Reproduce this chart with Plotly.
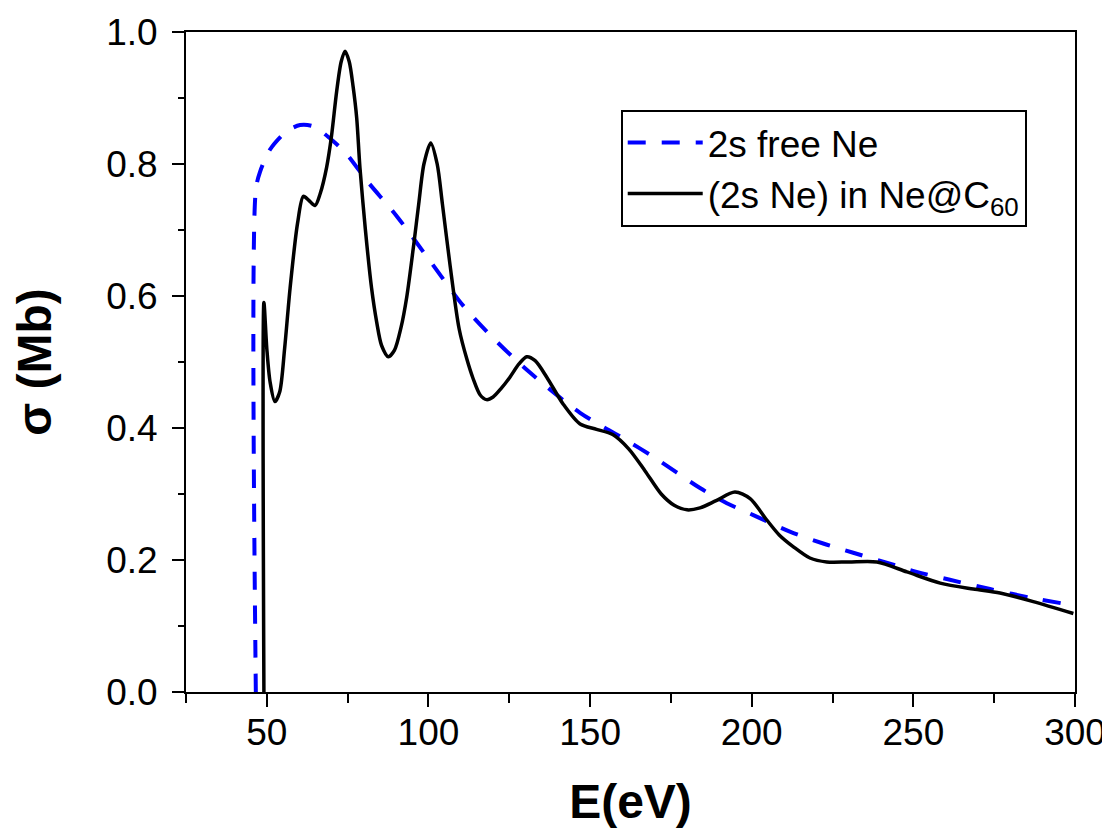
import plotly.graph_objects as go

# 2s free Ne (dashed blue)
free_E = [46.6, 46.6, 47.9, 51.0, 56.0, 60.3, 64.4, 69.5, 74.7, 80.9, 90.2, 100.5, 110.8,
          121.1, 131.4, 146.9, 160.0, 170.0, 184.0, 192.3, 200.5, 211.8, 222.1, 231.4,
          241.7, 251.0, 261.3, 273.7, 287.1, 300.0]
free_s = [0.0, 0.761, 0.788, 0.822, 0.849, 0.859, 0.857, 0.839, 0.815, 0.775, 0.721, 0.653,
          0.585, 0.531, 0.484, 0.423, 0.385, 0.355, 0.309, 0.286, 0.268, 0.243, 0.225,
          0.211, 0.196, 0.182, 0.170, 0.156, 0.142, 0.131]

# (2s Ne) in Ne@C60 (solid black)
c60_E = [49.1, 49.1, 50.0, 51.0, 52.5, 54.0, 55.5, 57.2, 59.5, 61.3, 63.0, 64.9, 66.5, 68.5,
         70.0, 71.6, 73.0, 74.2, 75.5, 76.7, 77.8, 78.8, 80.5, 82.4, 84.0, 85.5, 87.6, 89.5,
         91.5, 93.3, 95.5, 97.0, 98.6, 100.7, 102.7, 104.3, 106.7, 109.5, 111.9, 113.8, 116.0,
         118.0, 120.0, 122.5, 125.2, 128.0, 130.4, 133.0, 136.6, 141.7, 146.9, 152.0, 157.0,
         162.0, 167.0, 172.0, 176.0, 180.0, 184.0, 189.0, 194.8, 199.5, 204.6, 208.5, 212.9,
         218.0, 223.2, 230.0, 238.7, 248.0, 258.3, 268.5, 276.8, 287.1, 299.5]
c60_s = [0.0, 0.59, 0.52, 0.47, 0.44, 0.455, 0.52, 0.612, 0.71, 0.751, 0.745, 0.737, 0.755,
         0.795, 0.842, 0.91, 0.955, 0.971, 0.955, 0.917, 0.87, 0.795, 0.70, 0.612, 0.56,
         0.525, 0.508, 0.518, 0.552, 0.599, 0.68, 0.74, 0.80, 0.832, 0.80, 0.74, 0.646,
         0.55, 0.504, 0.475, 0.45, 0.443, 0.447, 0.46, 0.477, 0.497, 0.508, 0.502, 0.477,
         0.436, 0.406, 0.398, 0.39, 0.368, 0.335, 0.30, 0.283, 0.276, 0.279, 0.29, 0.303,
         0.293, 0.261, 0.238, 0.220, 0.203, 0.197, 0.197, 0.197, 0.182, 0.165, 0.156, 0.150,
         0.137, 0.119]

x_ticks = [50, 100, 150, 200, 250, 300]
y_ticks = [0.0, 0.2, 0.4, 0.6, 0.8, 1.0]

FONT = "Liberation Sans, Arial, sans-serif"

fig = go.Figure()
fig.add_trace(go.Scatter(
    x=free_E, y=free_s, mode="lines", name="2s free Ne", legendgroup="a",
    line=dict(color="#0000FF", width=4, dash="18px,16px", shape="spline", smoothing=0.8),
))
fig.add_trace(go.Scatter(
    x=c60_E, y=c60_s, mode="lines", name="(2s Ne) in Ne@C<sub>60</sub>", legendgroup="b",
    line=dict(color="black", width=3.5, shape="spline", smoothing=0.8),
))

# page body adds an 8px offset; sizes compensate so the plot area lands where the reference has it
fig.update_layout(
    width=1102, height=823,
    margin=dict(l=178, r=35, t=24, b=139),
    paper_bgcolor="white", plot_bgcolor="white",
    font=dict(family=FONT, color="black"),
    showlegend=True,
    legend=dict(
        x=0.489, y=0.882, xanchor="left", yanchor="top",
        bordercolor="black", borderwidth=2, bgcolor="white",
        font=dict(size=37, family=FONT, color="black"),
        tracegroupgap=0, itemwidth=75,
    ),
)
fig.update_xaxes(
    range=[25, 300], tickvals=x_ticks, ticktext=[str(v) for v in x_ticks],
    showgrid=False, zeroline=False, automargin=False,
    showline=True, linecolor="black", linewidth=2, mirror=True,
    ticks="outside", ticklen=13, tickwidth=2, tickcolor="black",
    ticklabelstandoff=-6,
    minor=dict(ticks="outside", dtick=25, tick0=0, ticklen=9, tickwidth=2, tickcolor="black"),
    tickfont=dict(size=37, family=FONT, color="black"),
    title=dict(text="<b>E(eV)</b>", font=dict(size=48, family=FONT, color="black"), standoff=32),
)
fig.update_yaxes(
    range=[0, 1.0], tickvals=y_ticks, ticktext=[f"{v:.1f}" for v in y_ticks],
    showgrid=False, zeroline=False, automargin=False,
    showline=True, linecolor="black", linewidth=2, mirror=True,
    ticks="outside", ticklen=12, tickwidth=2, tickcolor="black",
    ticklabelstandoff=7,
    minor=dict(ticks="outside", dtick=0.1, tick0=0, ticklen=6, tickwidth=2, tickcolor="black"),
    tickfont=dict(size=37, family=FONT, color="black"),
    title=dict(text="<b>σ (Mb)</b>", font=dict(size=48, family=FONT, color="black"), standoff=40),
)

fig.write_html("out.html")
